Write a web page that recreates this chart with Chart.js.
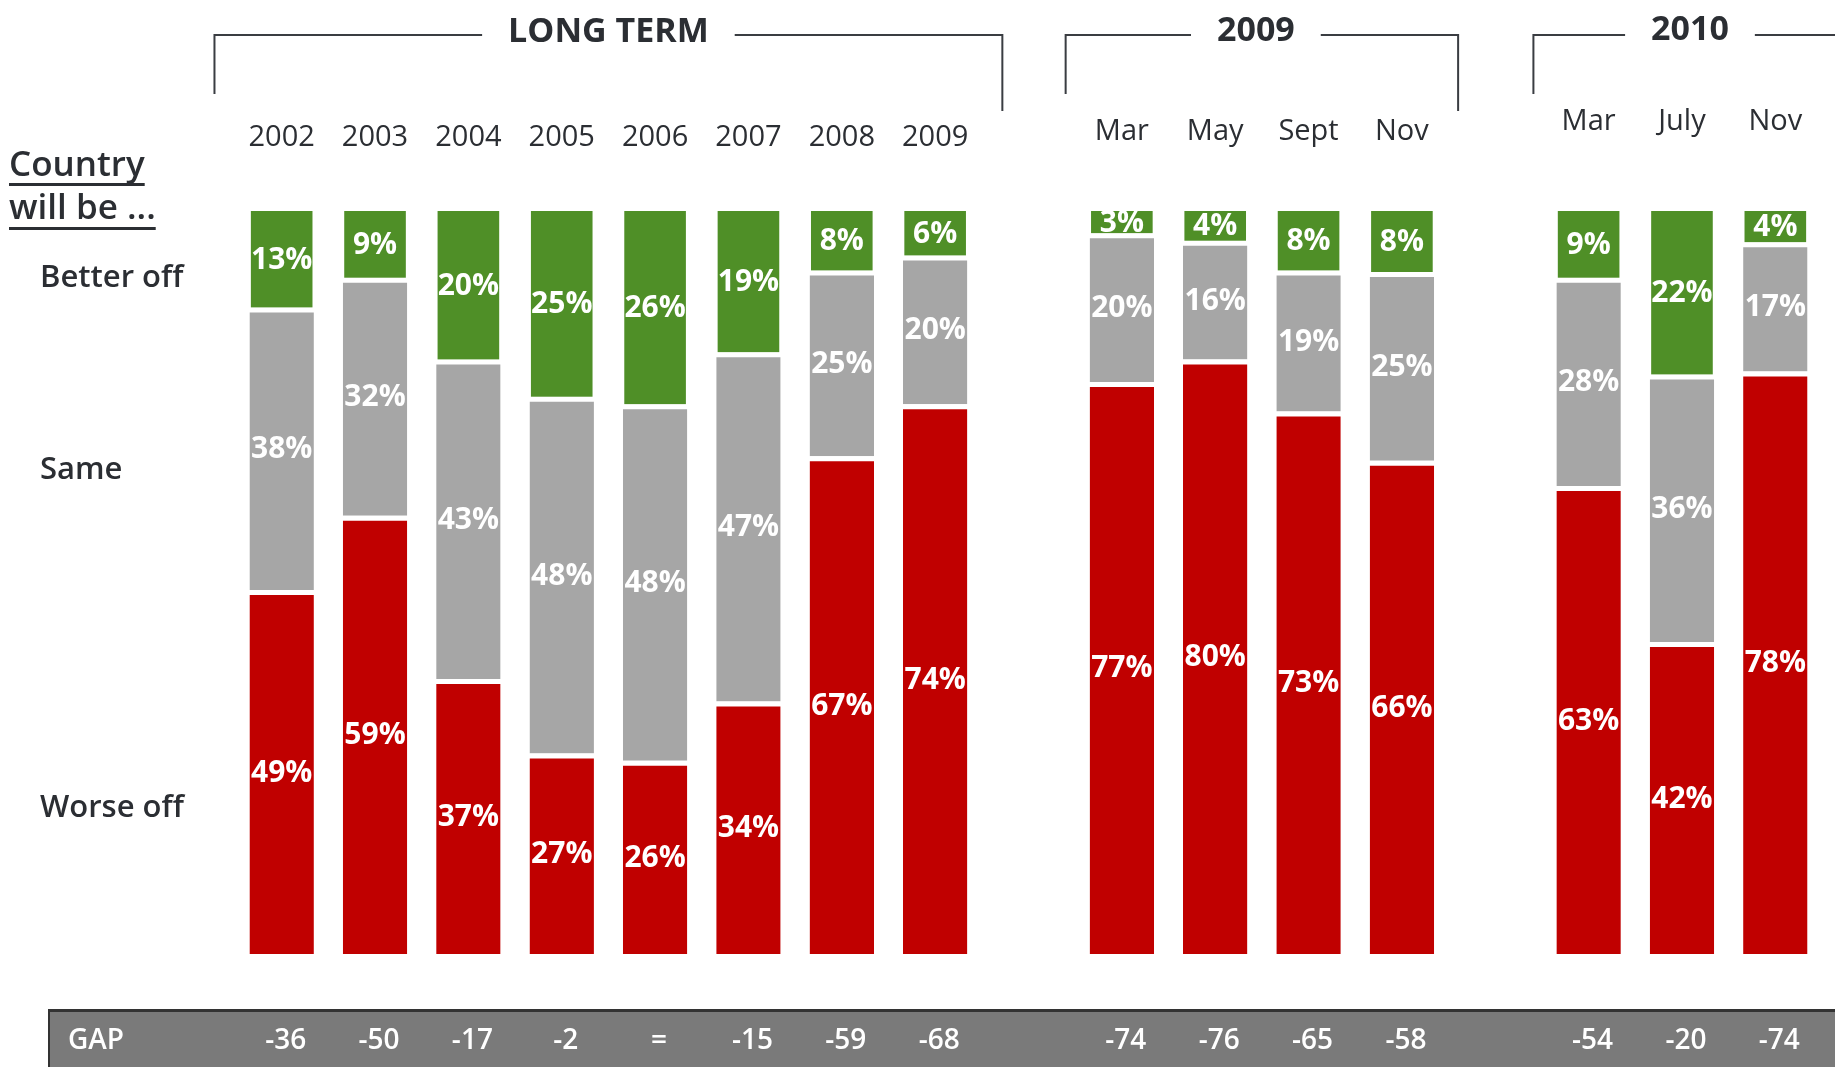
<!doctype html>
<html lang="en">
<head>
    <meta charset="utf-8">
    <title>Country will be ...</title>
    <style>
        * { margin: 0; padding: 0; }
        body { background: #fff; width: 1835px; height: 1067px; overflow: hidden; }
        canvas { display: block; }
    </style>
</head>
<body>
    <canvas id="myChart" width="1835" height="1067"></canvas>
    <script src="https://cdn.jsdelivr.net/npm/chart.js/dist/chart.umd.min.js"></script>
    <script>
        // data (empty slots separate the three groups)
        const categories = ['2002', '2003', '2004', '2005', '2006', '2007', '2008', '2009', '',
            'Mar', 'May', 'Sept', 'Nov', '', 'Mar', 'July', 'Nov'];
        const worseOff = [49, 59, 37, 27, 26, 34, 67, 74, null, 77, 80, 73, 66.4, null, 63, 42, 78.4];
        const same = [38, 32, 43, 48, 48, 47, 25, 20, null, 20, 16, 19, 25.4, null, 28, 36, 17.4];
        const betterOff = [13, 9, 20, 25, 26, 19, 8, 6, null, 3, 4, 8, 8.2, null, 9, 22, 4.2];
        const gapText = ['-36', '-50', '-17', '-2', '=', '-15', '-59', '-68', '',
            '-74', '-76', '-65', '-58', '', '-54', '-20', '-74'];
        const groupTitles = ['LONG TERM', '2009', '2010'];
        const groupFrom = [0, 9, 14];
        const groupTo = [7, 12, 16];
        const rowLabels = ['Better off', 'Same', 'Worse off'];

        const FONT = '"Open Sans", "DejaVu Sans", sans-serif';
        const DARK = '#2b2e33';

        const overlay = {
            id: 'overlay',
            afterDatasetsDraw(chart) {
                const ctx = chart.ctx;
                const area = chart.chartArea;
                ctx.save();
                ctx.beginPath();
                ctx.rect(area.left, area.top, area.right - area.left, area.bottom - area.top);
                ctx.clip();
                ctx.fillStyle = '#fff';
                ctx.font = 'bold 30px ' + FONT;
                ctx.textAlign = 'center';
                ctx.textBaseline = 'middle';
                chart.data.datasets.forEach((ds, i) => {
                    chart.getDatasetMeta(i).data.forEach((bar, j) => {
                        const v = ds.data[j];
                        if (v == null) return;
                        ctx.fillText(Math.round(v) + '%', bar.x, (bar.y + bar.base) / 2 + 1);
                    });
                });
                ctx.restore();
            },
            afterDraw(chart) {
                const ctx = chart.ctx;
                const x = chart.scales.x;
                const half = chart.getDatasetMeta(0).data[0].width / 2;
                ctx.save();

                // group brackets with titles
                const ext = [35, 24, 23];
                const labelY = [138, 132, 122];
                const titleY = [32, 31, 30];
                const titleShift = [0, -6, 8];
                const rightDrop = [111, 111, null];
                for (let g = 0; g < groupTitles.length; g++) {
                    const left = x.getPixelForValue(groupFrom[g]) - half - ext[g];
                    const right = g === 2 ? chart.width : x.getPixelForValue(groupTo[g]) + half + ext[g];
                    const cx = (x.getPixelForValue(groupFrom[g]) + x.getPixelForValue(groupTo[g])) / 2 + titleShift[g];
                    ctx.font = 'bold 34px ' + FONT;
                    const tw = ctx.measureText(groupTitles[g]).width;
                    ctx.strokeStyle = '#3a3d42';
                    ctx.lineWidth = 2;
                    ctx.beginPath();
                    ctx.moveTo(left, 94);
                    ctx.lineTo(left, 35);
                    ctx.lineTo(cx - tw / 2 - 26, 35);
                    ctx.moveTo(cx + tw / 2 + 26, 35);
                    ctx.lineTo(right, 35);
                    if (rightDrop[g]) ctx.lineTo(right, rightDrop[g]);
                    ctx.stroke();
                    ctx.fillStyle = DARK;
                    ctx.textAlign = 'center';
                    ctx.textBaseline = 'middle';
                    ctx.fillText(groupTitles[g], cx, titleY[g]);

                    ctx.font = '29px ' + FONT;
                    for (let i = groupFrom[g]; i <= groupTo[g]; i++) {
                        ctx.fillText(categories[i], x.getPixelForValue(i), labelY[g]);
                    }
                }

                // left side labels
                ctx.textAlign = 'left';
                ctx.fillStyle = DARK;
                ctx.font = '600 35px ' + FONT;
                [['Country', 166, 183], ['will be ...', 209, 227]].forEach(([t, y, uy]) => {
                    ctx.fillText(t, 9, y);
                    ctx.fillRect(9, uy, ctx.measureText(t).width, 3);
                });
                ctx.font = '600 31px ' + FONT;
                const rowY = [278, 470, 808];
                rowLabels.forEach((t, i) => ctx.fillText(t, 40, rowY[i]));

                // GAP row
                ctx.fillStyle = '#7a7a7a';
                ctx.fillRect(49, 1010, chart.width - 49, 57);
                ctx.fillStyle = '#333';
                ctx.fillRect(49, 1009, chart.width - 49, 3);
                ctx.fillRect(48, 1009, 2, 58);
                ctx.fillStyle = '#fff';
                ctx.font = '600 28px ' + FONT;
                ctx.fillText('GAP', 68, 1041);
                ctx.textAlign = 'center';
                gapText.forEach((t, i) => {
                    if (t) ctx.fillText(t, x.getPixelForValue(i) + 4, 1041);
                });
                ctx.restore();
            }
        };

        const sep = { top: 5, right: 0, bottom: 0, left: 0 };
        const chartData = {
            labels: categories,
            datasets: [
                { label: 'Worse off', data: worseOff, backgroundColor: '#c00000', borderColor: '#fff', borderWidth: sep, borderSkipped: false, barPercentage: 0.69 },
                { label: 'Same', data: same, backgroundColor: '#a6a6a6', borderColor: '#fff', borderWidth: sep, borderSkipped: false, barPercentage: 0.69 },
                { label: 'Better off', data: betterOff, backgroundColor: '#4f8f27', borderWidth: 0, barPercentage: 0.66 }
            ]
        };

        const config = {
            type: 'bar',
            data: chartData,
            options: {
                responsive: false,
                animation: false,
                devicePixelRatio: 1,
                layout: { padding: { left: 235, right: 13, top: 211, bottom: 113 } },
                datasets: { bar: { categoryPercentage: 1 } },
                plugins: { legend: { display: false }, tooltip: { enabled: false } },
                scales: {
                    x: { stacked: true, display: false },
                    y: { stacked: true, display: false, min: 0, max: 100 }
                }
            },
            plugins: [overlay]
        };

        new Chart(document.getElementById('myChart'), config);
    </script>
</body>
</html>
